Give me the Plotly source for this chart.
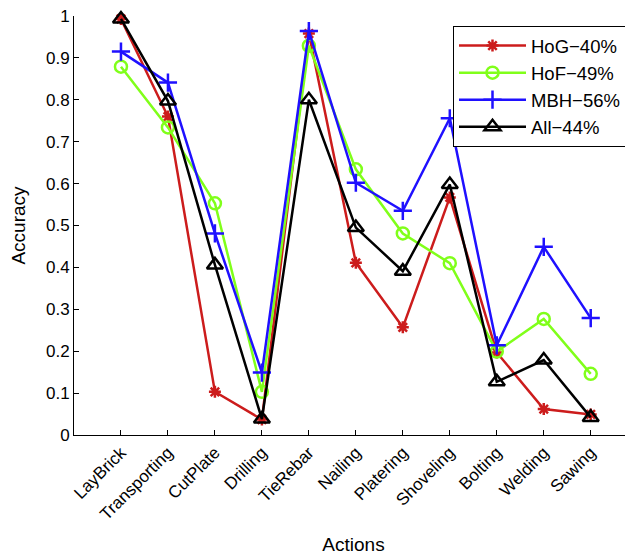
import plotly.graph_objects as go

actions = ["LayBrick", "Transporting", "CutPlate", "Drilling", "TieRebar", "Nailing",
           "Platering", "Shoveling", "Bolting", "Welding", "Sawing"]
hog = [0.993, 0.760, 0.103, 0.037, 0.958, 0.411, 0.257, 0.567, 0.197, 0.062, 0.049]
hof = [0.879, 0.734, 0.553, 0.103, 0.929, 0.634, 0.481, 0.410, 0.199, 0.277, 0.146]
mbh = [0.915, 0.841, 0.481, 0.149, 0.964, 0.602, 0.535, 0.756, 0.214, 0.449, 0.279]
all_ = [0.993, 0.797, 0.406, 0.038, 0.800, 0.495, 0.391, 0.598, 0.127, 0.179, 0.042]
y_ticks = [0, 0.1, 0.2, 0.3, 0.4, 0.5, 0.6, 0.7, 0.8, 0.9, 1]
y_tick_text = ["0", "0.1", "0.2", "0.3", "0.4", "0.5", "0.6", "0.7", "0.8", "0.9", "1"]

x = list(range(1, len(actions) + 1))

series = [
    ("HoG\u221240%", hog, "#cc1c1c", "asterisk-open", 10),
    ("HoF\u221249%", hof, "#80ff1a", "circle-open", 12),
    ("MBH\u221256%", mbh, "#1f10ff", "cross-thin-open", 13),
    ("All\u221244%", all_, "#000000", "triangle-up-open", 14),
]

fig = go.Figure()
for name, vals, color, sym, size in series:
    fig.add_trace(go.Scatter(
        x=x, y=vals, name=name, mode="lines+markers",
        line=dict(color=color, width=2.5),
        marker=dict(symbol=sym, size=size, color=color, line=dict(color=color, width=2.5)),
        cliponaxis=False,
    ))

# the page body adds an 8 px offset, compensated in the margins
fig.update_layout(
    width=633, height=557,
    margin=dict(l=66, r=8, t=8, b=130),
    paper_bgcolor="white", plot_bgcolor="white",
    font=dict(family="Liberation Sans, Arial, sans-serif", size=17, color="black"),
    showlegend=True,
    legend=dict(x=0.678, y=0.976, xanchor="left", yanchor="top",
                bordercolor="black", borderwidth=1, bgcolor="white",
                font=dict(size=18.5), tracegroupgap=0, itemwidth=67),
    xaxis=dict(
        range=[0, 11.9], tickmode="array", tickvals=x, ticktext=actions,
        tickangle=-45, ticks="inside", ticklen=5, tickcolor="black",
        showline=True, linecolor="black", linewidth=1, showgrid=False, zeroline=False,
        automargin=False,
        title=dict(text="Actions", font=dict(size=19), standoff=14),
    ),
    yaxis=dict(
        range=[0, 1], tickmode="array", tickvals=y_ticks, ticktext=y_tick_text,
        ticks="inside", ticklen=5, tickcolor="black", ticklabeloverflow="allow",
        showline=True, linecolor="black", linewidth=1, showgrid=False, zeroline=False,
        automargin=False,
        title=dict(text="Accuracy", font=dict(size=19), standoff=26),
    ),
)

fig.write_html("out.html")
